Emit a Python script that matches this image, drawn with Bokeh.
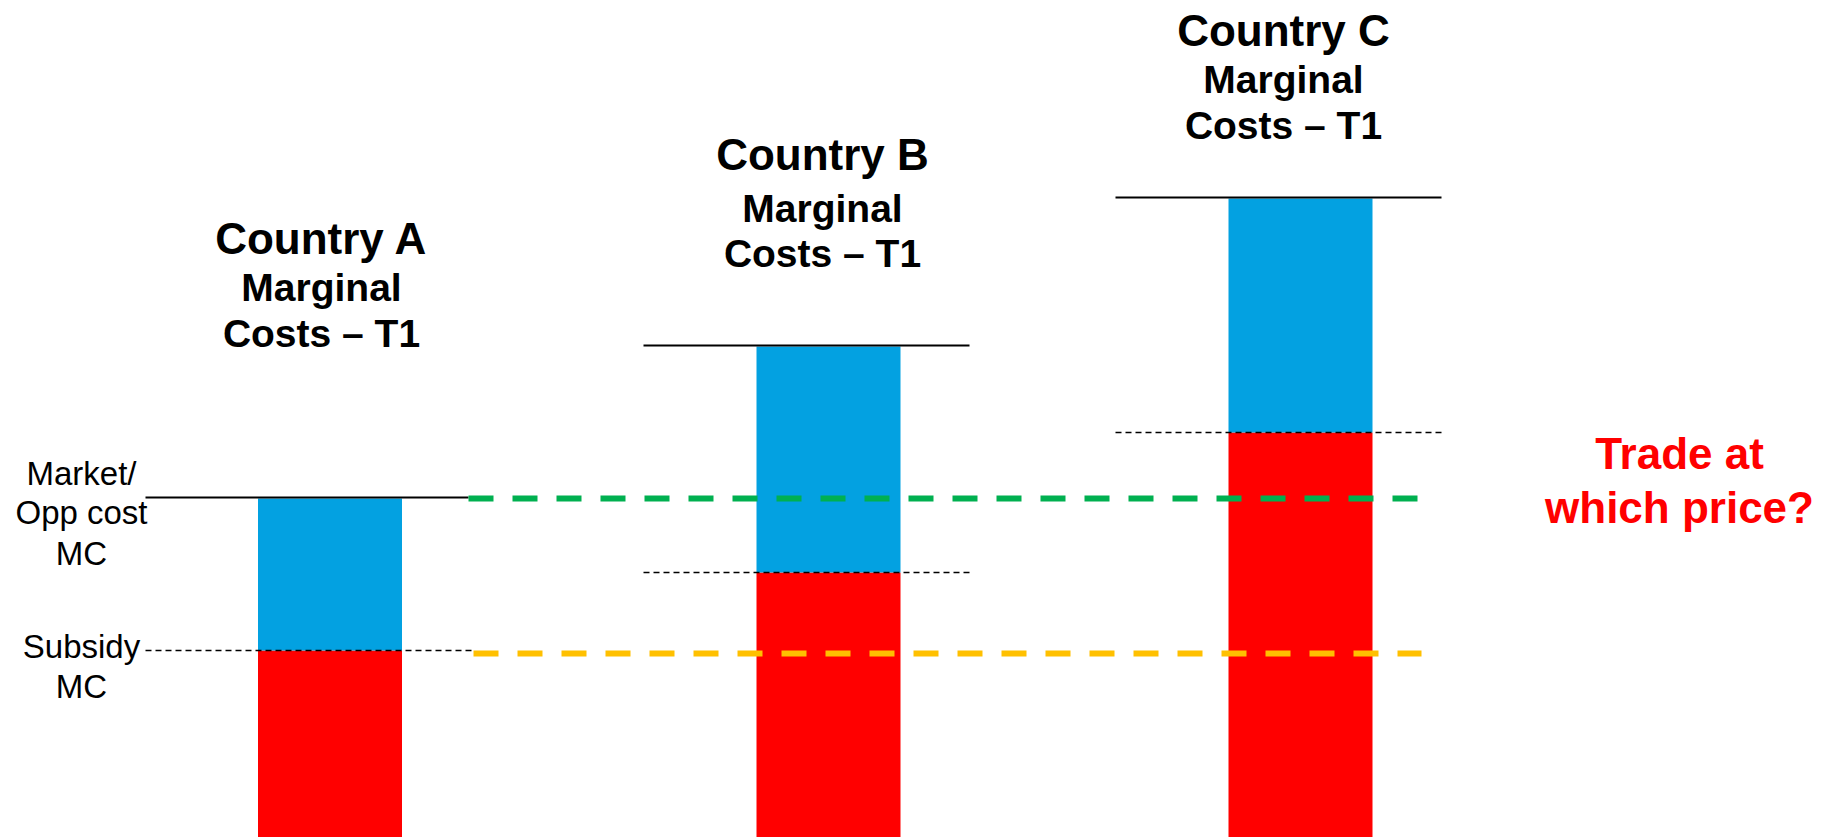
from bokeh.plotting import figure
from bokeh.models import ColumnDataSource, Range1d
from bokeh.core.properties import value
from bokeh.embed import file_html
from bokeh.resources import INLINE

# ---- data ----
countries = ["Country A", "Country B", "Country C"]
subsidy_mc = [187, 265, 405]        # red part (subsidy marginal cost)
market_mc = [339, 491, 639]         # top of blue part (market / opportunity cost MC)
green_price = 339                   # trade price = market MC of A
yellow_price = 184                  # trade price = subsidy MC of A
left_labels_top = ["Market/", "Opp cost", "MC"]
left_labels_bottom = ["Subsidy", "MC"]
title_lines = ["Marginal", "Costs \u2013 T1"]
question = ["Trade at", "which price?"]

# ---- layout (pixels) ----
W, H = 1823, 837
bar_x = [329.5, 828, 1300]
bar_w = 144
line_x0 = [145, 643, 1115]
line_x1 = [468, 969, 1441]
sub_x1 = [472, 969, 1441]
title_x = [321, 822, 1283]
title_base = [[253, 301, 347], [169, 222, 267], [45, 93, 139]]
SHIFT = 0.35  # em, baseline correction


def ty(base, size):
    return H - (base - SHIFT * size)


FONT = value("Liberation Sans")

p = figure(width=W, height=H, x_range=Range1d(0, W), y_range=Range1d(0, H),
           output_backend="svg", toolbar_location=None, min_border=0)
p.axis.visible = False
p.grid.visible = False
p.outline_line_color = None
p.background_fill_color = "white"
p.border_fill_color = "white"

src = ColumnDataSource(dict(x=bar_x, sub=subsidy_mc, mkt=market_mc,
                            zero=[0, 0, 0]))
p.vbar(x="x", width=bar_w, bottom="zero", top="sub", source=src,
       fill_color="#FF0000", line_color=None)
p.vbar(x="x", width=bar_w, bottom="sub", top="mkt", source=src,
       fill_color="#03A1E1", line_color=None)

# solid line at market MC, dashed at subsidy MC
for i in range(3):
    p.line([line_x0[i], line_x1[i]], [market_mc[i] + 1, market_mc[i] + 1],
           line_color="black", line_width=2)
    p.line([line_x0[i], sub_x1[i]], [subsidy_mc[i], subsidy_mc[i]],
           line_color="black", line_width=1.5, line_dash="6 4")

# trade price lines
p.line([468, 1436], [green_price, green_price], line_color="#00B050",
       line_width=6, line_dash="25 19")
p.line([473, 1421], [yellow_price, yellow_price], line_color="#FFC000",
       line_width=6, line_dash="25 19")

# titles
for i, c in enumerate(countries):
    p.text(x=[title_x[i]], y=[ty(title_base[i][0], 44)], text=[c],
           text_font=FONT, text_font_size="44px", text_font_style="bold",
           text_align="center", text_baseline="alphabetic", text_color="black")
    for j, t in enumerate(title_lines):
        p.text(x=[title_x[i]], y=[ty(title_base[i][j + 1], 39)], text=[t],
               text_font=FONT, text_font_size="39px", text_font_style="bold",
               text_align="center", text_baseline="alphabetic", text_color="black")

# left labels
for j, t in enumerate(left_labels_top):
    p.text(x=[81], y=[ty([485, 524, 565][j], 33)], text=[t], text_font=FONT,
           text_font_size="33px", text_align="center", text_baseline="alphabetic",
           text_color="black")
for j, t in enumerate(left_labels_bottom):
    p.text(x=[81], y=[ty([658, 698][j], 33)], text=[t], text_font=FONT,
           text_font_size="33px", text_align="center", text_baseline="alphabetic",
           text_color="black")

# question
for j, t in enumerate(question):
    p.text(x=[1679], y=[ty([468, 522][j], 44)], text=[t], text_font=FONT,
           text_font_size="44px", text_font_style="bold", text_align="center",
           text_baseline="alphabetic", text_color="#FF0000")

open("out.html", "w").write(file_html(p, INLINE))
